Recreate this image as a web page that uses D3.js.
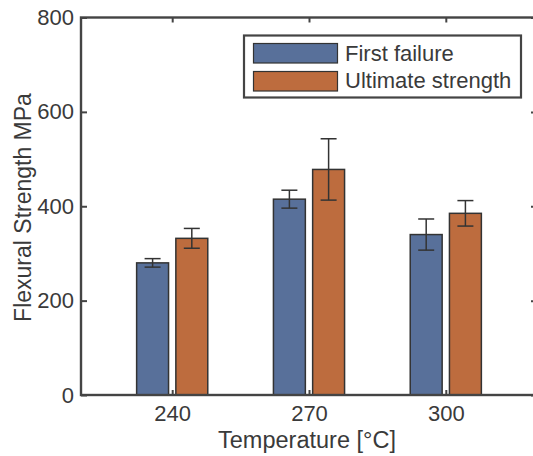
<!DOCTYPE html>
<html>
<head>
  <meta charset="utf-8">
  <title>Flexural Strength</title>
  <style>
    body { margin: 0; background: #fff; }
    svg { display: block; }
    text { font-family: "Liberation Sans", Arial, sans-serif; fill: #3a3a3a; }
  </style>
</head>
<body>
  <script src="https://d3js.org/d3.v7.min.js"></script>
  <script>
    // data
    const temps = [240, 270, 300];
    const seriesNames = ["First failure", "Ultimate strength"];
    const firstFailure = [280, 415, 340];
    const firstFailureErr = [9, 19, 33];
    const ultimate = [332, 478, 385];
    const ultimateErr = [21, 65, 27];
    const yTicks = [0, 200, 400, 600, 800];
    const colors = ["#58709a", "#bd6c3e"];

    const width = 533, height = 456;
    const mLeft = 81, mRight = 537, mTop = 17.5, mBottom = 395;
    const axisColor = "#444";

    const svg = d3.select("body").append("svg")
      .attr("width", width).attr("height", height);

    const x = d3.scaleLinear().domain([220, 320]).range([mLeft, mRight]);
    const y = d3.scaleLinear().domain([0, 800]).range([mBottom, mTop]);

    const series = [
      { name: seriesNames[0], vals: firstFailure, err: firstFailureErr, off: [-7.8, -0.8] },
      { name: seriesNames[1], vals: ultimate, err: ultimateErr, off: [0.8, 7.8] }
    ];

    // bars
    series.forEach((s, si) => {
      const g = svg.append("g");
      g.selectAll("rect").data(temps).join("rect")
        .attr("x", (t) => x(t + s.off[0]))
        .attr("width", (t) => x(t + s.off[1]) - x(t + s.off[0]))
        .attr("y", (t, i) => y(s.vals[i]))
        .attr("height", (t, i) => y(0) - y(s.vals[i]))
        .attr("fill", colors[si])
        .attr("stroke", "#333")
        .attr("stroke-width", 1.5);

      // error bars
      const eb = g.selectAll("g.err").data(temps).join("g").attr("class", "err");
      const cx = (t) => (x(t + s.off[0]) + x(t + s.off[1])) / 2;
      eb.append("line")
        .attr("x1", cx).attr("x2", cx)
        .attr("y1", (t, i) => y(s.vals[i] + s.err[i]))
        .attr("y2", (t, i) => y(s.vals[i] - s.err[i]));
      eb.append("line")
        .attr("x1", (t) => cx(t) - 8).attr("x2", (t) => cx(t) + 8)
        .attr("y1", (t, i) => y(s.vals[i] + s.err[i]))
        .attr("y2", (t, i) => y(s.vals[i] + s.err[i]));
      eb.append("line")
        .attr("x1", (t) => cx(t) - 8).attr("x2", (t) => cx(t) + 8)
        .attr("y1", (t, i) => y(s.vals[i] - s.err[i]))
        .attr("y2", (t, i) => y(s.vals[i] - s.err[i]));
      eb.selectAll("line").attr("stroke", "#333").attr("stroke-width", 1.5);
    });

    // axes (ticks inward)
    const axisLeft = svg.append("g").attr("transform", `translate(${mLeft},0)`)
      .call(d3.axisLeft(y).tickValues(yTicks).tickSize(-6).tickPadding(7));
    const axisRight = svg.append("g").attr("transform", `translate(${mRight},0)`)
      .call(d3.axisRight(y).tickValues(yTicks).tickSize(-6).tickFormat(""));
    const axisBottom = svg.append("g").attr("transform", `translate(0,${mBottom})`)
      .call(d3.axisBottom(x).tickValues(temps).tickSize(-5).tickPadding(10));
    const axisTop = svg.append("g").attr("transform", `translate(0,${mTop})`)
      .call(d3.axisTop(x).tickValues(temps).tickSize(-5).tickFormat(""));

    [axisLeft, axisRight, axisBottom, axisTop].forEach((a) => {
      a.select(".domain").remove();
      a.selectAll(".tick line").attr("stroke", axisColor).attr("stroke-width", 2);
      a.selectAll(".tick text").attr("fill", "#3a3a3a")
        .style("font-size", "22px").style("font-family", "Liberation Sans, Arial, sans-serif");
    });

    // frame
    svg.append("rect")
      .attr("x", mLeft).attr("y", mTop)
      .attr("width", mRight - mLeft).attr("height", mBottom - mTop)
      .attr("fill", "none").attr("stroke", axisColor).attr("stroke-width", 2.4);

    // axis titles
    svg.append("text")
      .attr("transform", "translate(31,207.5) rotate(-90)")
      .attr("text-anchor", "middle")
      .style("font-size", "23px")
      .text("Flexural Strength MPa");

    svg.append("text")
      .attr("x", 307).attr("y", 448)
      .attr("text-anchor", "middle")
      .style("font-size", "23.5px")
      .text("Temperature [°C]");

    // legend
    const lg = svg.append("g");
    lg.append("rect")
      .attr("x", 244).attr("y", 35.5).attr("width", 277).attr("height", 62)
      .attr("fill", "#fff").attr("stroke", axisColor).attr("stroke-width", 2.2);
    series.forEach((s, i) => {
      lg.append("rect")
        .attr("x", 253.5).attr("y", 43.5 + i * 28).attr("width", 84).attr("height", 19.5)
        .attr("fill", colors[i]).attr("stroke", "#333").attr("stroke-width", 1.2);
      lg.append("text")
        .attr("x", 345).attr("y", 61 + i * 27)
        .style("font-size", "22px")
        .text(s.name);
    });
  </script>
</body>
</html>
